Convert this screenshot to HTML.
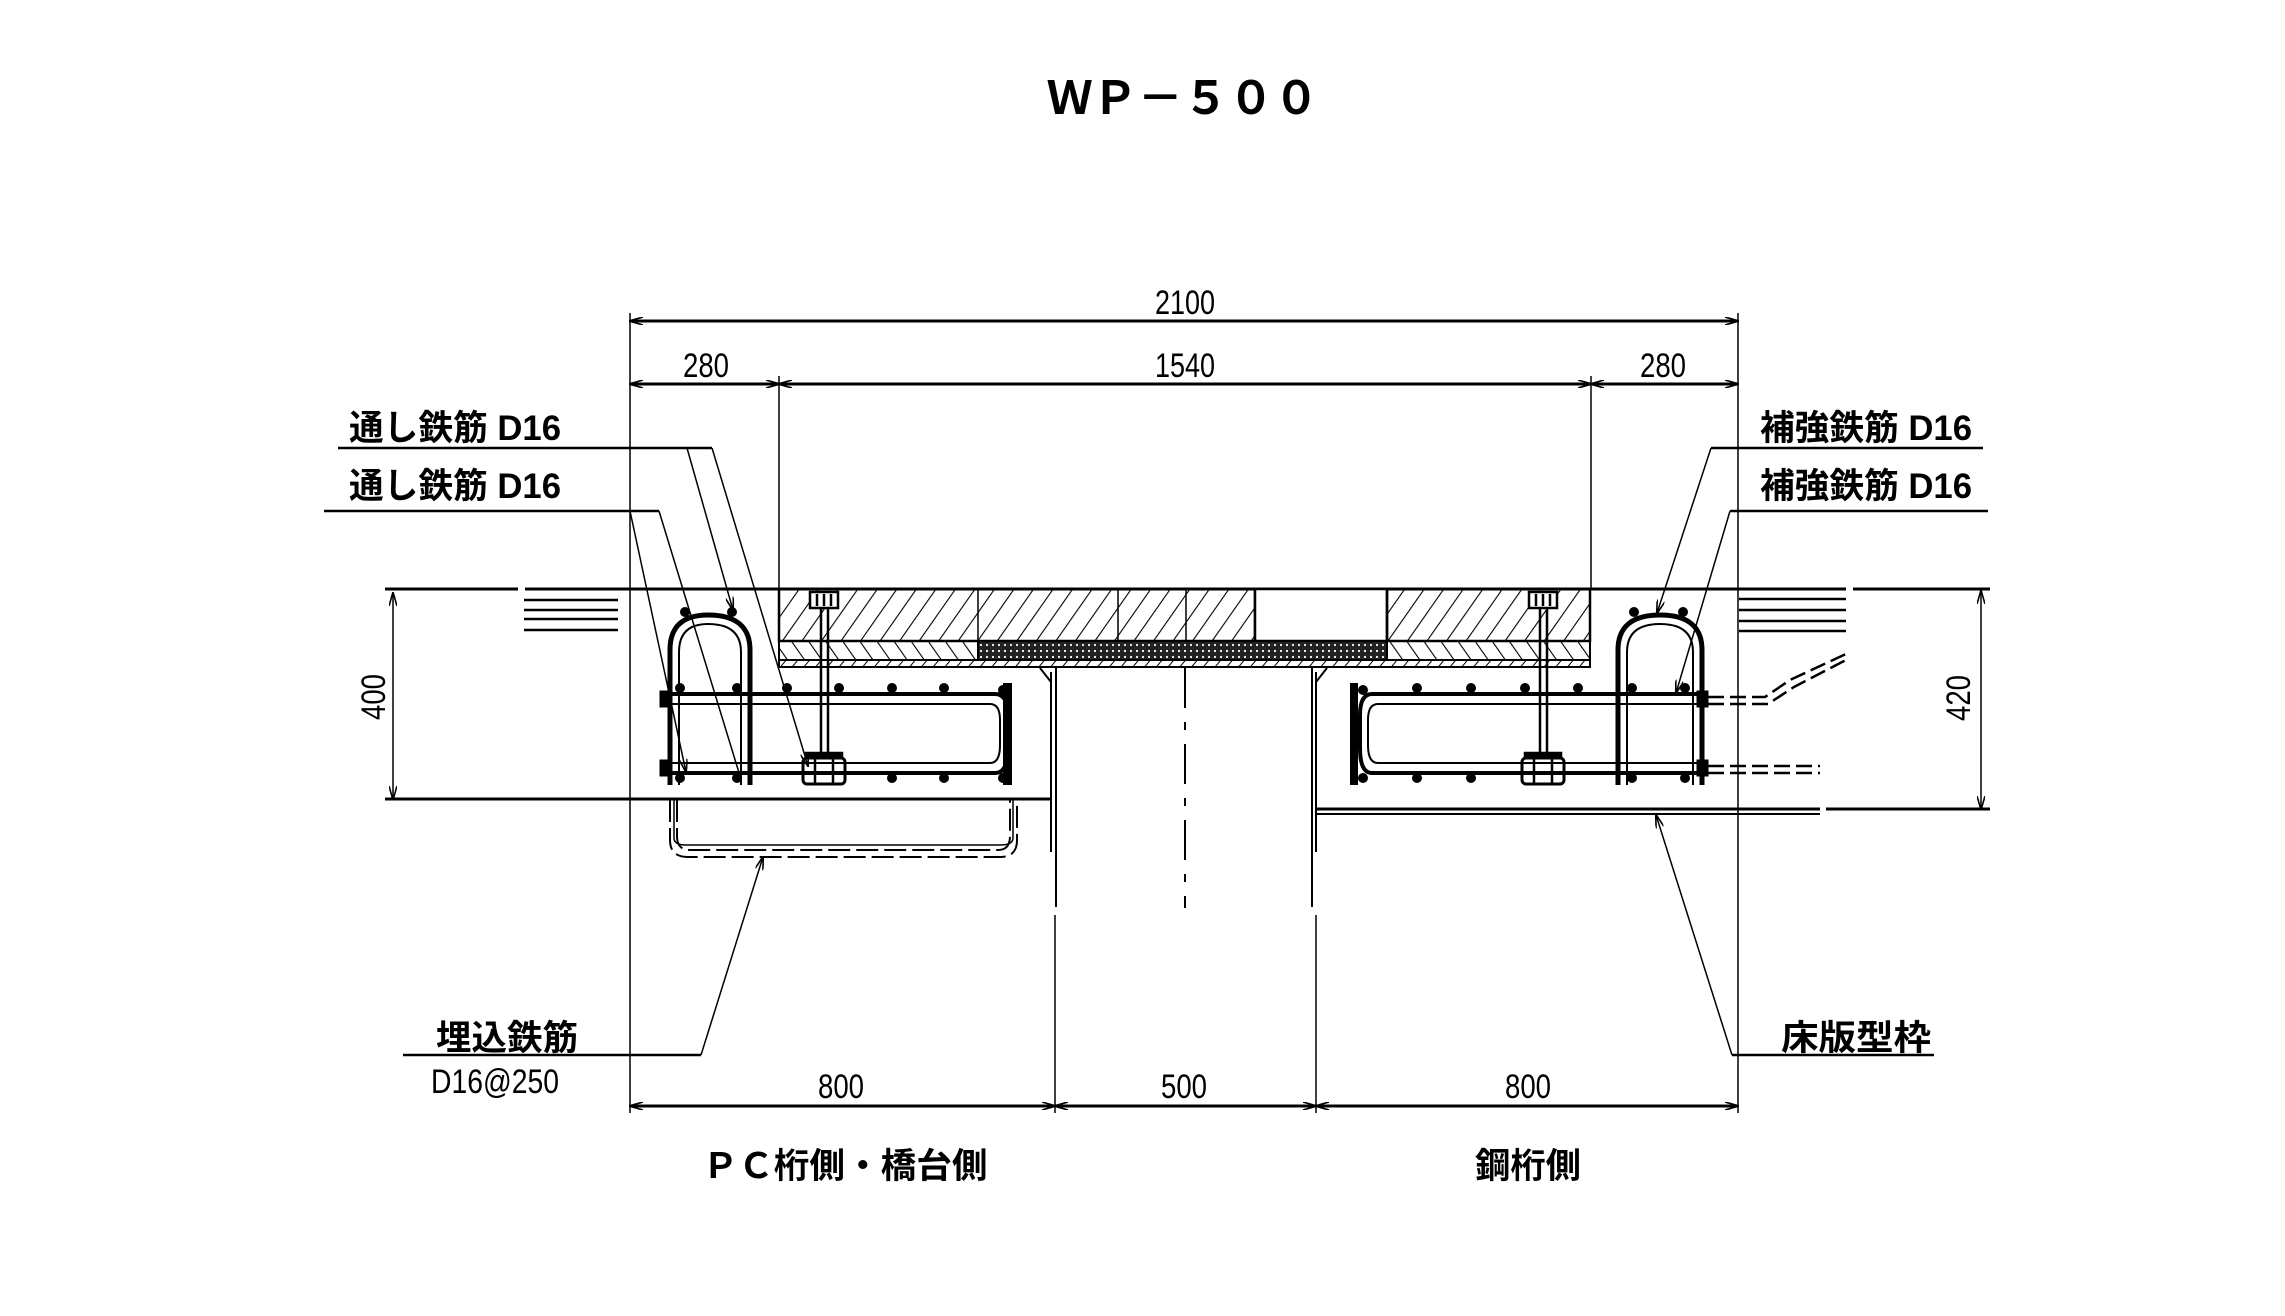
<!DOCTYPE html>
<html><head><meta charset="utf-8"><style>html,body{margin:0;padding:0;background:#fff}svg{display:block}</style></head>
<body>
<svg width="2285" height="1316" viewBox="0 0 2285 1316" xmlns="http://www.w3.org/2000/svg" font-family="'Liberation Sans','Noto Sans CJK JP',sans-serif">
<defs>
<pattern id="hf" width="16" height="16" patternUnits="userSpaceOnUse" patternTransform="rotate(35)"><line x1="0" y1="0" x2="0" y2="16" stroke="#000" stroke-width="2.2"/></pattern>
<pattern id="hb" width="14" height="14" patternUnits="userSpaceOnUse" patternTransform="rotate(-35)"><line x1="0" y1="0" x2="0" y2="14" stroke="#000" stroke-width="2.2"/></pattern>
<pattern id="hs" width="9" height="9" patternUnits="userSpaceOnUse" patternTransform="rotate(40)"><line x1="0" y1="0" x2="0" y2="9" stroke="#000" stroke-width="2"/></pattern>
<pattern id="dt" width="6" height="6" patternUnits="userSpaceOnUse"><rect width="6" height="6" fill="#222"/><circle cx="3" cy="3" r="1.1" fill="#fff"/></pattern>
<marker id="ar" markerWidth="14" markerHeight="8" refX="13" refY="4" orient="auto" markerUnits="userSpaceOnUse"><path d="M0,0 L14,4 L0,8" fill="none" stroke="#000" stroke-width="1.6"/></marker>
<marker id="as" markerWidth="14" markerHeight="8" refX="1" refY="4" orient="auto" markerUnits="userSpaceOnUse"><path d="M14,0 L0,4 L14,8" fill="none" stroke="#000" stroke-width="1.6"/></marker>
</defs>

<text x="1183" y="114" font-size="46" font-weight="bold" text-anchor="middle" textLength="272" lengthAdjust="spacingAndGlyphs">ＷＰ－５００</text>

<g stroke="#000" fill="none">
<line x1="630" y1="313" x2="630" y2="1113" stroke-width="1.5"/>
<line x1="1738" y1="313" x2="1738" y2="1113" stroke-width="1.5"/>
<line x1="779" y1="376" x2="779" y2="589" stroke-width="1.5"/>
<line x1="1591" y1="376" x2="1591" y2="589" stroke-width="1.5"/>
<line x1="630" y1="321" x2="1738" y2="321" stroke-width="3" marker-start="url(#as)" marker-end="url(#ar)"/>
<line x1="630" y1="384" x2="779" y2="384" stroke-width="3" marker-start="url(#as)" marker-end="url(#ar)"/>
<line x1="779" y1="384" x2="1591" y2="384" stroke-width="3" marker-start="url(#as)" marker-end="url(#ar)"/>
<line x1="1591" y1="384" x2="1738" y2="384" stroke-width="3" marker-start="url(#as)" marker-end="url(#ar)"/>
<line x1="630" y1="1106" x2="1055" y2="1106" stroke-width="3" marker-start="url(#as)" marker-end="url(#ar)"/>
<line x1="1055" y1="1106" x2="1316" y2="1106" stroke-width="3" marker-start="url(#as)" marker-end="url(#ar)"/>
<line x1="1316" y1="1106" x2="1738" y2="1106" stroke-width="3" marker-start="url(#as)" marker-end="url(#ar)"/>
<line x1="393" y1="593" x2="393" y2="799" stroke-width="1.5" marker-start="url(#as)" marker-end="url(#ar)"/>
<line x1="1981" y1="591" x2="1981" y2="809" stroke-width="1.5" marker-start="url(#as)" marker-end="url(#ar)"/>

<line x1="385" y1="589" x2="518" y2="589" stroke-width="3"/>
<line x1="525" y1="589" x2="1846" y2="589" stroke-width="3"/>
<line x1="1853" y1="589" x2="1990" y2="589" stroke-width="3"/>
<g stroke-width="2.5">
<line x1="524" y1="600" x2="618" y2="600"/><line x1="524" y1="610" x2="618" y2="610"/><line x1="524" y1="619" x2="618" y2="619"/><line x1="524" y1="630" x2="618" y2="630"/>
<line x1="1739" y1="599" x2="1846" y2="599"/><line x1="1739" y1="610" x2="1846" y2="610"/><line x1="1739" y1="621" x2="1846" y2="621"/><line x1="1739" y1="631" x2="1846" y2="631"/>
</g>
<line x1="385" y1="799" x2="1052" y2="799" stroke-width="3"/>
<line x1="1316" y1="809" x2="1820" y2="809" stroke-width="3"/>
<line x1="1316" y1="814" x2="1820" y2="814" stroke-width="2"/>
<line x1="1826" y1="809" x2="1990" y2="809" stroke-width="3"/>

<line x1="1051" y1="672" x2="1051" y2="852" stroke-width="2"/>
<line x1="1056" y1="668" x2="1056" y2="907" stroke-width="2"/>
<line x1="1040" y1="668" x2="1051" y2="682" stroke-width="2"/>
<line x1="1055" y1="915" x2="1055" y2="1113" stroke-width="1.5"/>
<line x1="1312" y1="668" x2="1312" y2="907" stroke-width="2"/>
<line x1="1316" y1="672" x2="1316" y2="852" stroke-width="2"/>
<line x1="1327" y1="668" x2="1316" y2="682" stroke-width="2"/>
<line x1="1316" y1="915" x2="1316" y2="1113" stroke-width="1.5"/>
<line x1="1185" y1="668" x2="1185" y2="908" stroke-width="2" stroke-dasharray="40,14,8,14"/>

<rect x="779" y="589" width="476" height="52" fill="url(#hf)" stroke-width="2.5"/>
<rect x="1255" y="589" width="132" height="52" fill="#fff" stroke-width="2.5"/>
<rect x="1387" y="589" width="203" height="52" fill="url(#hf)" stroke-width="2.5"/>
<line x1="978" y1="589" x2="978" y2="641" stroke-width="1.5"/>
<line x1="1118" y1="589" x2="1118" y2="641" stroke-width="1.5"/>
<line x1="1186" y1="589" x2="1186" y2="641" stroke-width="1.5"/>
<rect x="779" y="641" width="199" height="19" fill="url(#hb)" stroke-width="2"/>
<rect x="978" y="641" width="409" height="19" fill="url(#dt)" stroke-width="2"/>
<rect x="1387" y="641" width="203" height="19" fill="url(#hb)" stroke-width="2"/>
<rect x="779" y="660" width="811" height="7" fill="url(#hs)" stroke-width="2"/>

<g stroke-width="2.5">
<rect x="810" y="592" width="28" height="16" fill="#fff"/><line x1="817" y1="594" x2="817" y2="606"/><line x1="824" y1="594" x2="824" y2="606"/><line x1="831" y1="594" x2="831" y2="606"/>
<line x1="821" y1="608" x2="821" y2="753"/><line x1="828" y1="608" x2="828" y2="753"/>
<rect x="806" y="753" width="36" height="5" fill="#000"/>
<rect x="803" y="758" width="42" height="26" rx="4" fill="#fff" stroke-width="3"/><line x1="815" y1="758" x2="815" y2="784"/><line x1="833" y1="758" x2="833" y2="784"/>
<rect x="1529" y="592" width="28" height="16" fill="#fff"/><line x1="1536" y1="594" x2="1536" y2="606"/><line x1="1543" y1="594" x2="1543" y2="606"/><line x1="1550" y1="594" x2="1550" y2="606"/>
<line x1="1540" y1="608" x2="1540" y2="753"/><line x1="1547" y1="608" x2="1547" y2="753"/>
<rect x="1525" y="753" width="36" height="5" fill="#000"/>
<rect x="1522" y="758" width="42" height="26" rx="4" fill="#fff" stroke-width="3"/><line x1="1534" y1="758" x2="1534" y2="784"/><line x1="1552" y1="758" x2="1552" y2="784"/>
</g>

<g stroke-width="3">
<path d="M661,694 H995 Q1008,694 1008,715 V748 Q1008,773 995,773 H661" stroke-width="4"/>
<path d="M665,704 H990 Q1000,704 1000,720 V745 Q1000,763 990,763 H665" stroke-width="2"/>
<rect x="661" y="692" width="8" height="14" fill="#000"/><rect x="661" y="761" width="8" height="14" fill="#000"/>
<rect x="1003" y="683" width="9" height="102" fill="#000" stroke="none"/>
<path d="M670,785 V650 Q670,615 708,615 Q750,615 750,650 V785" stroke-width="5"/>
<path d="M679,785 V652 Q679,624 708,624 Q741,624 741,652 V785" stroke-width="2"/>
</g>
<g fill="#000" stroke="none">
<circle cx="685" cy="612" r="5"/><circle cx="732" cy="612" r="5"/>
<circle cx="680" cy="688" r="5"/><circle cx="737" cy="688" r="5"/><circle cx="787" cy="688" r="5"/><circle cx="839" cy="688" r="5"/><circle cx="892" cy="688" r="5"/><circle cx="944" cy="688" r="5"/>
<circle cx="680" cy="778" r="5"/><circle cx="737" cy="778" r="5"/><circle cx="892" cy="778" r="5"/><circle cx="944" cy="778" r="5"/><circle cx="1003" cy="690" r="5"/><circle cx="1003" cy="778" r="5"/>
</g>
<path d="M670,800 V840 Q670,857 688,857 H1000 Q1017,857 1017,840 V800" stroke-width="2" stroke-dasharray="22,6"/>
<path d="M677,800 V836 Q677,850 690,850 H998 Q1010,850 1010,836 V800" stroke-width="2" stroke-dasharray="22,6"/>
<path d="M674,800 V838 Q674,845 686,845 H1000 Q1013,845 1013,838 V800" stroke-width="1.5"/>

<g stroke-width="3">
<path d="M1706,694 H1372 Q1360,694 1360,715 V748 Q1360,773 1372,773 H1706" stroke-width="4"/>
<path d="M1702,704 H1378 Q1368,704 1368,720 V745 Q1368,763 1378,763 H1702" stroke-width="2"/>
<rect x="1698" y="692" width="9" height="14" fill="#000"/><rect x="1698" y="761" width="9" height="14" fill="#000"/>
<rect x="1350" y="683" width="8" height="102" fill="#000" stroke="none"/>
<path d="M1618,785 V650 Q1618,615 1660,615 Q1702,615 1702,650 V785" stroke-width="5"/>
<path d="M1627,785 V652 Q1627,624 1660,624 Q1693,624 1693,652 V785" stroke-width="2"/>
</g>
<g fill="#000" stroke="none">
<circle cx="1634" cy="612" r="5"/><circle cx="1683" cy="612" r="5"/>
<circle cx="1417" cy="688" r="5"/><circle cx="1471" cy="688" r="5"/><circle cx="1525" cy="688" r="5"/><circle cx="1578" cy="688" r="5"/><circle cx="1632" cy="688" r="5"/><circle cx="1685" cy="688" r="5"/>
<circle cx="1417" cy="778" r="5"/><circle cx="1471" cy="778" r="5"/><circle cx="1632" cy="778" r="5"/><circle cx="1685" cy="778" r="5"/><circle cx="1363" cy="690" r="5"/><circle cx="1363" cy="778" r="5"/>
</g>
<g stroke-width="2.5" stroke-dasharray="16,6">
<path d="M1708,697 H1765 L1790,680 L1846,654"/>
<path d="M1708,704 H1768 L1794,687 L1846,660"/>
<path d="M1708,766 H1820"/><path d="M1708,773 H1820"/>
</g>

<g stroke-width="2.5">
<line x1="338" y1="448" x2="712" y2="448"/>
<line x1="324" y1="511" x2="659" y2="511"/>
<line x1="1711" y1="448" x2="1983" y2="448"/>
<line x1="1730" y1="511" x2="1988" y2="511"/>
<line x1="403" y1="1055" x2="701" y2="1055"/>
<line x1="1732" y1="1055" x2="1934" y2="1055"/>
</g>
<g stroke-width="1.5">
<line x1="687" y1="448" x2="733" y2="610" marker-end="url(#ar)"/>
<line x1="712" y1="448" x2="808" y2="766" marker-end="url(#ar)"/>
<line x1="630" y1="511" x2="686" y2="772" marker-end="url(#ar)"/>
<line x1="659" y1="511" x2="740" y2="776"/>
<line x1="1711" y1="448" x2="1657" y2="613" marker-end="url(#ar)"/>
<line x1="1730" y1="511" x2="1676" y2="693" marker-end="url(#ar)"/>
<line x1="701" y1="1055" x2="763" y2="857" marker-end="url(#ar)"/>
<line x1="1732" y1="1055" x2="1656" y2="815" marker-end="url(#ar)"/>
</g>
</g>

<g font-size="34" text-anchor="middle">
<text x="1185" y="314" textLength="60" lengthAdjust="spacingAndGlyphs">2100</text>
<text x="706" y="377" textLength="46" lengthAdjust="spacingAndGlyphs">280</text>
<text x="1185" y="377" textLength="60" lengthAdjust="spacingAndGlyphs">1540</text>
<text x="1663" y="377" textLength="46" lengthAdjust="spacingAndGlyphs">280</text>
<text x="841" y="1098" textLength="46" lengthAdjust="spacingAndGlyphs">800</text>
<text x="1184" y="1098" textLength="46" lengthAdjust="spacingAndGlyphs">500</text>
<text x="1528" y="1098" textLength="46" lengthAdjust="spacingAndGlyphs">800</text>
<text transform="translate(385,697) rotate(-90)" textLength="46" lengthAdjust="spacingAndGlyphs">400</text>
<text transform="translate(1970,698) rotate(-90)" textLength="46" lengthAdjust="spacingAndGlyphs">420</text>
</g>
<g font-size="35" font-weight="bold">
<text x="349" y="440" textLength="212" lengthAdjust="spacingAndGlyphs">通し鉄筋 D16</text>
<text x="349" y="498" textLength="212" lengthAdjust="spacingAndGlyphs">通し鉄筋 D16</text>
<text x="1760" y="440" textLength="212" lengthAdjust="spacingAndGlyphs">補強鉄筋 D16</text>
<text x="1760" y="498" textLength="212" lengthAdjust="spacingAndGlyphs">補強鉄筋 D16</text>
<text x="436" y="1050" textLength="142" lengthAdjust="spacingAndGlyphs">埋込鉄筋</text>
<text x="1781" y="1050" textLength="150" lengthAdjust="spacingAndGlyphs">床版型枠</text>
</g>
<text x="431" y="1093" font-size="34" textLength="128" lengthAdjust="spacingAndGlyphs">D16@250</text>
<g font-size="35" font-weight="bold" text-anchor="middle">
<text x="845" y="1178" textLength="285" lengthAdjust="spacingAndGlyphs">ＰＣ桁側・橋台側</text>
<text x="1528" y="1178" textLength="106" lengthAdjust="spacingAndGlyphs">鋼桁側</text>
</g>
</svg>
</body></html>
